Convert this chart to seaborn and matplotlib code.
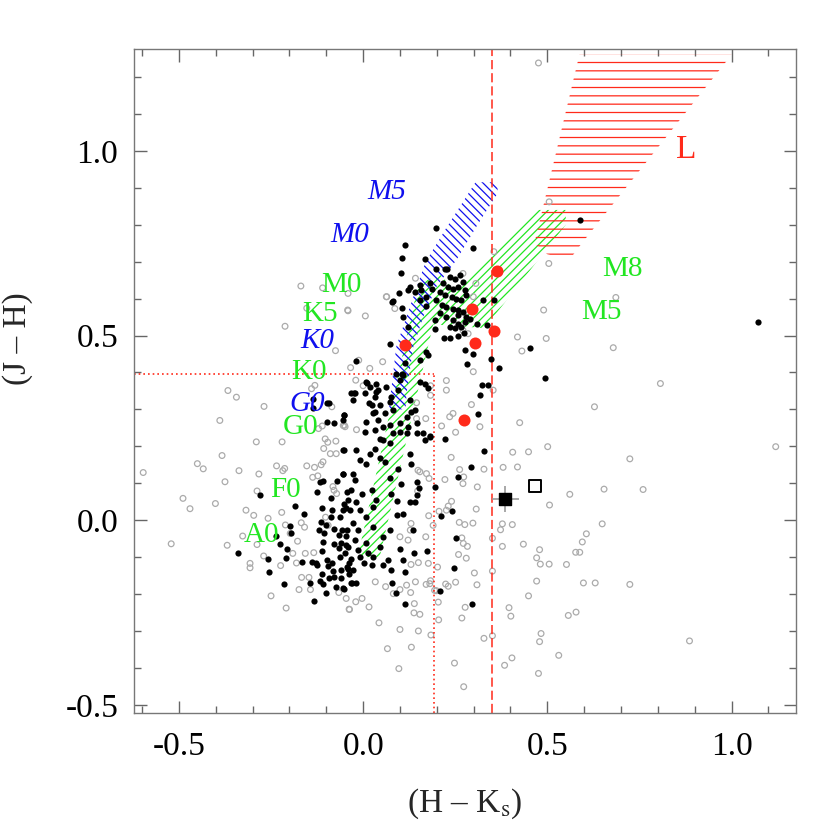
import pandas as pd
import numpy as np
import seaborn as sns
import matplotlib.pyplot as plt
from matplotlib.patches import Polygon
from matplotlib.ticker import MultipleLocator

# (H-Ks, J-H) of the sources
black = [
    (0.199, 0.792), (0.115, 0.745), (0.299, 0.736), (0.105, 0.711), (0.104, 0.668), (0.168, 0.706),
    (0.199, 0.681), (0.222, 0.681), (0.228, 0.679), (0.098, 0.614), (0.121, 0.623), (0.080, 0.593),
    (0.105, 0.575), (0.107, 0.550), (0.122, 0.523), (0.072, 0.477), (0.170, 0.455), (0.175, 0.447),
    (0.154, 0.433), (0.114, 0.426), (0.106, 0.397), (0.108, 0.392), (-0.020, 0.432), (0.195, 0.517),
    (0.326, 0.596), (0.354, 0.596), (0.335, 0.528), (0.219, 0.492), (0.235, 0.494), (0.258, 0.500),
    (0.277, 0.460), (0.299, 0.451), (0.283, 0.422), (0.347, 0.437), (0.368, 0.412), (0.452, 0.465),
    (0.495, 0.385), (0.324, 0.365), (0.338, 0.366), (0.317, 0.339), (0.311, 0.287),
    (0.235, 0.659), (0.249, 0.654), (0.262, 0.663), (0.271, 0.645), (0.217, 0.641), (0.231, 0.632),
    (0.244, 0.627), (0.258, 0.632), (0.276, 0.623), (0.208, 0.618), (0.222, 0.609), (0.240, 0.605),
    (0.253, 0.600), (0.267, 0.596), (0.280, 0.609), (0.199, 0.596), (0.213, 0.582), (0.226, 0.578),
    (0.244, 0.573), (0.258, 0.569), (0.271, 0.564), (0.280, 0.551), (0.208, 0.560), (0.226, 0.551),
    (0.244, 0.542), (0.258, 0.532), (0.267, 0.523), (0.276, 0.537), (0.249, 0.519), (0.235, 0.523),
    (0.289, 0.546), (0.258, 0.555), (0.186, 0.627), (0.181, 0.641), (0.158, 0.623), (0.172, 0.605),
    (0.154, 0.596), (0.140, 0.618), (0.127, 0.632), (0.154, 0.636), (0.170, 0.579), (0.194, 0.542),
    (0.308, 0.532), (0.273, 0.508),
    (0.009, 0.375), (0.018, 0.361), (0.036, 0.370), (0.005, 0.343), (0.032, 0.334), (0.041, 0.352),
    (-0.027, 0.325), (-0.023, 0.343), (0.023, 0.311), (0.045, 0.311), (0.072, 0.320), (0.077, 0.334),
    (0.063, 0.361), (0.090, 0.397), (0.099, 0.379), (0.095, 0.352), (0.081, 0.298), (0.059, 0.289),
    (0.027, 0.289), (0.009, 0.266), (0.041, 0.271), (0.054, 0.253), (0.072, 0.257), (0.099, 0.262),
    (0.118, 0.280), (0.131, 0.293), (0.140, 0.298), (0.154, 0.375), (0.167, 0.370), (0.176, 0.357),
    (0.127, 0.325), (0.122, 0.253), (0.145, 0.262), (0.163, 0.235), (0.181, 0.226), (0.005, 0.239),
    (0.032, 0.244), (0.045, 0.221), (-0.051, 0.284), (-0.054, 0.271), (0.081, 0.235),
    (0.078, 0.591), (0.590, 0.812), (1.073, 0.536),
    (0.328, 0.188), (0.222, 0.219), (0.294, 0.144), (0.258, 0.118), (0.194, 0.090), (0.240, 0.026),
    (0.212, 0.010), (0.251, -0.048), (0.248, -0.129), (0.210, -0.193), (0.296, -0.226), (0.174, -0.084),
    (0.136, -0.027), (0.138, -0.089), (0.109, -0.108), (0.115, -0.140), (0.078, -0.170), (0.089, -0.196),
    (0.114, -0.227), (0.101, -0.078), (0.054, -0.122), (0.068, -0.108), (0.075, -0.135), (0.023, -0.122),
    (0.002, -0.117), (-0.018, -0.171), (-0.031, -0.170), (-0.054, -0.185), (-0.045, -0.128), (-0.027, -0.135),
    (0.140, 0.050), (0.127, 0.050), (0.147, 0.068), (0.152, 0.086), (0.145, 0.104), (0.095, 0.138),
    (0.127, 0.180), (0.129, 0.153), (0.091, 0.014), (0.109, 0.018), (0.092, 0.052), (0.072, 0.113),
    (0.104, 0.099), (0.077, 0.072), (0.145, 0.235), (0.167, 0.218), (0.181, 0.227), (0.118, 0.235),
    (0.100, 0.239), (0.072, 0.208), (0.055, 0.217), (-0.052, 0.190), (-0.018, 0.190), (-0.009, 0.162),
    (0.018, 0.180), (0.009, 0.153), (0.032, 0.194), (0.045, 0.167), (0.059, 0.158), (-0.054, 0.126),
    (-0.027, 0.126), (-0.023, 0.108), (-0.045, 0.077), (-0.041, 0.054), (-0.018, 0.050), (-0.004, 0.072),
    (0.023, 0.081), (0.036, 0.054), (0.027, 0.036), (-0.009, 0.027), (-0.036, 0.027), (0.009, 0.009),
    (-0.027, -0.009), (-0.045, -0.027), (-0.014, -0.027), (0.027, -0.018), (-0.023, -0.054), (0.009, -0.063),
    (-0.041, -0.072), (-0.014, -0.081), (0.014, -0.090), (0.027, -0.099), (-0.032, -0.104), (-0.009, -0.099),
    (0.045, -0.072), (0.054, -0.045), (0.072, -0.027),
    (-0.279, 0.069), (-0.341, -0.088), (-0.259, -0.106), (-0.255, -0.141), (-0.236, -0.043), (-0.226, -0.064),
    (-0.198, -0.015), (-0.195, -0.036), (-0.208, -0.078), (-0.209, -0.103), (-0.185, 0.039), (-0.161, 0.018),
    (-0.166, -0.114), (-0.137, 0.327), (-0.099, 0.317), (-0.137, 0.305), (-0.051, 0.286), (-0.097, 0.266),
    (-0.080, 0.263), (-0.054, 0.189), (-0.055, 0.124), (-0.110, 0.107), (-0.117, 0.102), (-0.126, 0.075),
    (-0.088, 0.060), (-0.070, 0.106), (-0.034, 0.081), (-0.111, 0.033), (-0.052, 0.045), (-0.046, 0.032),
    (-0.055, 0.027), (-0.084, 0.027), (-0.115, -0.004), (-0.101, -0.014), (-0.120, -0.027), (-0.105, -0.035),
    (-0.086, 0.009), (-0.063, 0.009), (-0.079, -0.025), (-0.066, -0.040), (-0.057, -0.027), (-0.046, -0.043),
    (-0.080, -0.065), (-0.060, -0.063), (-0.066, -0.075), (-0.046, -0.067), (-0.109, -0.060), (-0.111, -0.083),
    (-0.139, -0.112), (-0.125, -0.122), (-0.098, -0.108), (-0.084, -0.117), (-0.064, -0.101), (-0.049, -0.090),
    (-0.037, -0.116), (-0.112, -0.145), (-0.093, -0.156), (-0.079, -0.155), (-0.061, -0.134), (-0.037, -0.145),
    (-0.032, 0.343),
    (-0.214, -0.172), (-0.134, -0.218), (-0.100, -0.197), (-0.144, -0.169), (-0.118, -0.164), (-0.108, -0.172),
    (-0.075, -0.182), (-0.051, -0.186), (-0.060, -0.157), (-0.081, -0.138), (-0.095, -0.125), (-0.127, -0.116),
    (-0.032, -0.170), (-0.042, -0.131),
    (-0.093, 0.317), (-0.024, 0.344), (0.011, 0.372), (0.036, 0.348), (0.016, 0.316), (0.032, 0.293),
]

grey = [
    (-0.367, 0.351), (-0.344, 0.333), (-0.269, 0.308), (-0.389, 0.270), (-0.290, 0.212), (-0.220, 0.212),
    (-0.383, 0.175), (-0.450, 0.153), (-0.434, 0.139), (-0.337, 0.134), (-0.283, 0.125), (-0.597, 0.129),
    (-0.375, 0.104), (-0.235, 0.147), (-0.213, 0.140), (-0.218, 0.134), (-0.489, 0.059), (-0.470, 0.031),
    (-0.401, 0.045), (-0.288, 0.079), (-0.318, 0.027), (-0.297, 0.013), (-0.258, 0.005), (-0.221, 0.021),
    (-0.521, -0.064), (-0.369, -0.068), (-0.327, -0.043), (-0.288, -0.066), (-0.270, -0.097), (-0.307, -0.117),
    (-0.307, -0.129), (-0.224, -0.123), (-0.211, -0.013), (-0.198, -0.036), (-0.178, -0.057), (-0.168, -0.007),
    (-0.159, -0.019), (-0.191, -0.090), (-0.157, -0.090), (-0.181, -0.116), (-0.134, -0.088), (-0.153, 0.147),
    (-0.132, 0.143), (-0.114, 0.150), (-0.137, 0.116), (-0.123, 0.120), (-0.109, 0.158), (-0.107, 0.194),
    (-0.089, 0.180), (-0.073, 0.180), (-0.103, 0.220), (-0.096, 0.211), (-0.074, 0.214), (-0.121, 0.248),
    (-0.111, 0.255), (-0.085, 0.307), (-0.054, 0.256), (-0.049, 0.253), (-0.082, 0.091), (-0.079, 0.081),
    (-0.072, 0.072), (-0.102, 0.008), (-0.095, -0.014),
    (0.355, 0.727), (0.504, 0.695), (0.271, 0.668), (0.306, 0.641), (0.299, 0.605), (0.063, 0.605),
    (0.086, 0.573), (0.142, 0.655), (-0.042, 0.569), (0.006, 0.553), (0.271, 0.514), (0.285, 0.505),
    (0.419, 0.496), (0.497, 0.492), (0.490, 0.569), (0.431, 0.458), (0.053, 0.429), (0.018, 0.411),
    (-0.034, 0.413), (-0.012, 0.433), (0.299, 0.402), (0.226, 0.378), (0.226, 0.352), (0.183, 0.364),
    (0.183, 0.338), (0.145, 0.318), (0.294, 0.313), (0.353, 0.352), (0.244, 0.289), (0.235, 0.280),
    (0.213, 0.255), (0.251, 0.238), (0.317, 0.253), (0.425, 0.264), (0.170, 0.275), (0.145, 0.275),
    (-0.020, 0.379), (0.000, 0.364), (-0.018, 0.245), (-0.051, 0.257),
    (0.239, 0.170), (0.262, 0.137), (0.273, 0.117), (0.271, 0.099), (0.222, 0.110), (0.310, 0.090),
    (0.328, 0.138), (0.380, 0.143), (0.419, 0.144), (0.406, 0.184), (0.449, 0.185), (0.501, 0.199),
    (0.506, 0.041), (0.307, 0.030), (0.240, 0.051), (0.231, 0.038), (0.226, 0.027), (0.206, 0.024),
    (0.261, -0.006), (0.276, -0.012), (0.298, -0.008), (0.190, -0.014), (0.178, 0.012), (0.170, -0.045),
    (0.351, -0.049), (0.378, -0.010), (0.405, -0.012), (0.373, -0.026), (0.378, -0.071), (0.435, -0.065),
    (0.479, -0.080), (0.471, -0.102), (0.481, -0.119), (0.505, -0.119), (0.268, -0.048), (0.272, -0.063),
    (0.283, -0.071), (0.259, -0.093), (0.280, -0.103), (0.202, -0.127), (0.302, -0.143), (0.309, -0.175),
    (0.351, -0.138), (0.251, -0.168), (0.224, -0.173), (0.231, -0.179), (0.181, -0.172), (0.194, -0.190),
    (0.199, -0.191), (0.177, -0.117), (0.150, -0.115), (0.130, -0.120), (0.449, -0.205), (0.471, -0.165),
    (0.204, -0.222), (0.277, -0.236), (0.268, -0.265), (0.205, -0.270), (0.184, -0.311), (0.150, -0.300),
    (0.138, -0.251), (0.154, -0.255), (0.139, -0.226), (0.100, -0.296), (0.043, -0.278), (0.066, -0.348),
    (0.131, -0.344), (0.097, -0.402), (0.248, -0.387), (0.273, -0.451), (0.328, -0.320), (0.351, -0.313),
    (0.396, -0.237), (0.401, -0.260), (0.404, -0.373), (0.384, -0.393), (0.476, -0.415), (0.483, -0.307),
    (0.479, -0.329), (0.531, -0.366), (0.016, -0.235), (-0.038, -0.241), (-0.020, -0.221), (-0.003, -0.212),
    (0.033, -0.167), (0.061, -0.180), (0.082, -0.199), (0.100, -0.188), (0.129, -0.196), (0.118, -0.176),
    (0.142, -0.167), (0.171, -0.174), (0.183, -0.164), (0.130, -0.009), (0.128, -0.027), (0.122, -0.054),
    (0.100, -0.045), (0.149, 0.135), (0.154, 0.131), (0.172, 0.126), (0.179, 0.113), (0.148, 0.079),
    (0.686, 0.603), (0.679, 0.467), (0.807, 0.370), (0.628, 0.307), (0.724, 0.166), (1.120, 0.199),
    (0.561, 0.070), (0.654, 0.084), (0.760, 0.083), (0.649, -0.010), (0.606, -0.037), (0.595, -0.059),
    (0.577, -0.087), (0.588, -0.087), (0.552, -0.120), (0.598, -0.170), (0.630, -0.170), (0.724, -0.174),
    (0.557, -0.258), (0.578, -0.249), (0.886, -0.327),
    (-0.169, 0.634), (-0.110, 0.629), (-0.041, 0.614), (-0.153, 0.574), (-0.041, 0.567), (-0.212, 0.525),
    (-0.075, 0.459), (0.064, 0.605), (0.476, 1.238), (0.505, 0.862),
    (-0.250, -0.205), (-0.209, -0.238), (-0.174, -0.188), (-0.167, -0.155), (-0.143, -0.188), (-0.147, -0.155),
    (-0.037, -0.242), (-0.046, -0.212), (-0.066, -0.196), (-0.140, 0.356), (-0.131, 0.365),
]

red = [(0.115, 0.473), (0.296, 0.572), (0.364, 0.674), (0.356, 0.511), (0.303, 0.481), (0.275, 0.270)]

filled_sq = (0.386, 0.057)
filled_sq_err = (0.036, 0.035)
open_sq = (0.467, 0.092)

# intrinsic loci (outlines of the hatched bands)
dwarf_locus = [(-0.015, -0.10), (0.15, 0.64), (0.21, 0.665), (0.25, 0.62), (0.47, 0.84), (0.55, 0.84),
               (0.55, 0.80), (0.33, 0.52), (0.19, 0.53), (0.045, -0.10)]
giant_locus = [(0.07, 0.30), (0.09, 0.47), (0.145, 0.63), (0.17, 0.70), (0.225, 0.79), (0.305, 0.915),
               (0.365, 0.915), (0.365, 0.885), (0.307, 0.794), (0.253, 0.704), (0.199, 0.632),
               (0.163, 0.550), (0.136, 0.469), (0.118, 0.343), (0.115, 0.30)]
l_dwarfs = [(0.50, 0.72), (0.465, 0.75), (0.587, 1.26), (1.0, 1.26), (0.59, 0.745), (0.56, 0.705)]

dwarf_labels = [("A0", -0.276, -0.041), ("F0", -0.212, 0.083), ("G0", -0.170, 0.252), ("K0", -0.147, 0.400),
                ("K5", -0.116, 0.557), ("M0", -0.059, 0.636), ("M5", 0.647, 0.564), ("M8", 0.705, 0.681)]
giant_labels = [("G0", -0.152, 0.314), ("K0", -0.125, 0.484), ("M0", -0.036, 0.773), ("M5", 0.063, 0.889)]

hk_cut = 0.35
box_hk, box_jh = 0.193, 0.395
xlim = (-0.623, 1.175)
ylim = (-0.523, 1.275)

green = "#22e622"
blue = "#1010ee"
redc = "#ff2a1a"

sns.set_style("ticks")
plt.rcParams["font.family"] = ["Liberation Serif", "DejaVu Serif"]
plt.rcParams["mathtext.fontset"] = "stix"
plt.rcParams["axes.unicode_minus"] = False
plt.rcParams["hatch.linewidth"] = 0.9

fig = plt.figure(figsize=(8.3, 8.3), dpi=100)
ax = fig.add_axes([0.161, 0.1406, 0.798, 0.80])

for verts, col, h in [(dwarf_locus, green, "////"), (giant_locus, blue, "\\\\\\\\"), (l_dwarfs, redc, "--")]:
    ax.add_patch(Polygon(verts, closed=True, fill=False, hatch=h, edgecolor=col, linewidth=0, zorder=1))

g = pd.DataFrame(grey, columns=["hk", "jh"])
b = pd.DataFrame(black, columns=["hk", "jh"])
r = pd.DataFrame(red, columns=["hk", "jh"])

sns.scatterplot(data=g, x="hk", y="jh", ax=ax, marker="o", s=17, facecolors="none",
                edgecolor="#ababab", linewidth=0.9, zorder=2)
sns.scatterplot(data=b, x="hk", y="jh", ax=ax, color="black", s=20, linewidth=0, zorder=3)
sns.scatterplot(data=r, x="hk", y="jh", ax=ax, color=redc, s=75, linewidth=0, zorder=4)

ax.errorbar(filled_sq[0], filled_sq[1], xerr=filled_sq_err[0], yerr=filled_sq_err[1],
            fmt="none", ecolor="#999999", elinewidth=1.2, capsize=0, zorder=4)
ax.scatter([filled_sq[0]], [filled_sq[1]], marker="s", s=75, color="black", zorder=5)
ax.scatter([open_sq[0]], [open_sq[1]], marker="s", s=75, facecolors="white", edgecolors="black",
           linewidths=1.4, zorder=5)

ax.axvline(hk_cut, color=redc, lw=1.1, ls=(0, (6, 2.6)), zorder=2)
ax.hlines(box_jh, xlim[0], box_hk, color=redc, lw=1.2, ls=(0, (1, 1.8)), zorder=2)
ax.vlines(box_hk, ylim[0], box_jh, color=redc, lw=1.2, ls=(0, (1, 1.8)), zorder=2)

for txt, x, y in dwarf_labels:
    ax.text(x, y, txt, color=green, fontsize=21, ha="center", va="center", zorder=6)
for txt, x, y in giant_labels:
    ax.text(x, y, txt, color=blue, fontsize=21, style="italic", ha="center", va="center", zorder=6)
ax.text(0.877, 1.002, "L", color=redc, fontsize=24, ha="center", va="center", zorder=6)

ax.set_xlim(*xlim)
ax.set_ylim(*ylim)
ax.xaxis.set_major_locator(MultipleLocator(0.5))
ax.xaxis.set_minor_locator(MultipleLocator(0.1))
ax.yaxis.set_major_locator(MultipleLocator(0.5))
ax.yaxis.set_minor_locator(MultipleLocator(0.1))
ax.tick_params(which="both", direction="in", top=True, right=True, color="#666666", width=1.0,
               labelsize=24, labelcolor="black")
ax.tick_params(which="major", length=9)
ax.tick_params(which="minor", length=5)
ax.tick_params(axis="x", pad=13)
ax.tick_params(axis="y", pad=11)
for sp in ax.spines.values():
    sp.set_color("#777777")
    sp.set_linewidth(1.0)

ax.set_xlabel("(H – K$_{\\rm s}$)", fontsize=24)
ax.set_ylabel("(J – H)", fontsize=24)
ax.xaxis.set_label_coords(0.5, -0.11)
ax.yaxis.set_label_coords(-0.152, 0.565)

fig.savefig("out.png", dpi=100)
